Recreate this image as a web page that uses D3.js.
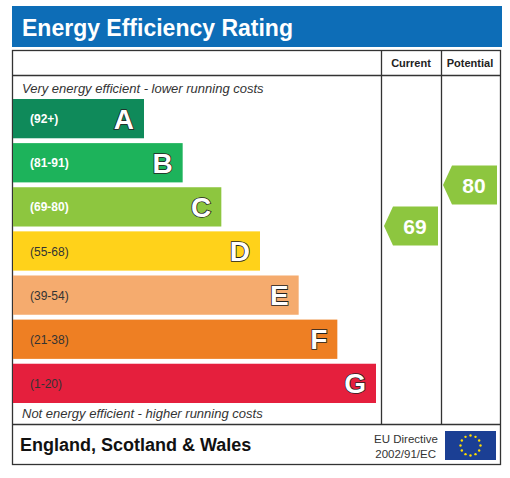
<!DOCTYPE html><html><head><meta charset="utf-8"><script src="https://cdn.jsdelivr.net/npm/d3@7"></script>
<style>body{margin:0;background:#fff}</style></head><body><svg id="c" width="510" height="478"></svg>
<script>
const letters=["A","B","C","D","E","F","G"];
const ranges=["(92+)","(81-91)","(69-80)","(55-68)","(39-54)","(21-38)","(1-20)"];
const colors=["#0f8a5a","#1db35b","#8dc63f","#ffd21a","#f5ab6e","#ee7f23","#e51f3d"];
const widthSteps=[1,2,3,4,5,6,7];
const currentVal=[69], potentialVal=[80];
const svg=d3.select("#c");
const F="Liberation Sans, Arial, sans-serif";
svg.append("rect").attr("x",12).attr("y",6).attr("width",490).attr("height",41).attr("fill","#0d6db7");
svg.append("text").attr("x",22).attr("y",36).attr("fill","#fff").attr("font-family",F).attr("font-weight","bold").attr("font-size",23).text("Energy Efficiency Rating");
const g=svg.append("g").attr("fill","none").attr("stroke","#333").attr("stroke-width",1.3);
g.append("rect").attr("x",12.5).attr("y",50.5).attr("width",488).attr("height",414);
g.append("line").attr("x1",12.5).attr("x2",500.5).attr("y1",75.5).attr("y2",75.5);
g.append("line").attr("x1",12.5).attr("x2",500.5).attr("y1",424.5).attr("y2",424.5);
[381.5,441.5].forEach(x=>g.append("line").attr("x1",x).attr("x2",x).attr("y1",50.5).attr("y2",424.5));
svg.append("text").attr("x",411).attr("y",67).attr("text-anchor","middle").attr("font-family",F).attr("font-weight","bold").attr("font-size",11).attr("fill","#222").text("Current");
svg.append("text").attr("x",470).attr("y",67).attr("text-anchor","middle").attr("font-family",F).attr("font-weight","bold").attr("font-size",11).attr("fill","#222").text("Potential");
svg.append("text").attr("x",22).attr("y",93).attr("font-family",F).attr("font-style","italic").attr("font-size",13).attr("fill","#333").text("Very energy efficient - lower running costs");
svg.append("text").attr("x",22).attr("y",418).attr("font-family",F).attr("font-style","italic").attr("font-size",13).attr("fill","#333").text("Not energy efficient - higher running costs");
const y=d3.scaleBand().domain(letters).range([99,403]).paddingInner(0.11);
const w=d3.scaleLinear().domain([0,7]).range([13,376]).clamp(false);
const wx=d3.scaleLinear().domain([1,7]).range([144,376]);
const bands=svg.selectAll("g.b").data(letters).join("g");
bands.append("rect").attr("x",13).attr("y",d=>y(d)).attr("height",y.bandwidth()).attr("width",(d,i)=>wx(widthSteps[i])-13).attr("fill",(d,i)=>colors[i]);
bands.append("text").attr("x",30).attr("y",d=>y(d)+y.bandwidth()/2+4.5).attr("font-family",F).attr("font-size",12).attr("font-weight",(d,i)=>i<3?"bold":"normal").attr("fill",(d,i)=>i<3?"#fff":"#333").text((d,i)=>ranges[i]);
bands.append("text").attr("x",(d,i)=>wx(widthSteps[i])-10).attr("y",d=>y(d)+y.bandwidth()/2+10).attr("text-anchor","end").attr("font-family",F).attr("font-weight","bold").attr("font-size",28).attr("fill","#fff").attr("stroke","#222").attr("stroke-width",1.6).attr("paint-order","stroke").text(d=>d);
const vy=d3.scaleLinear().domain([80,69]).range([185,226]);
function arrow(val,x0,x1){const c=vy(val),h=19.5;
 svg.append("path").attr("d",`M${x0},${c} L${x0+9},${c-h} L${x1},${c-h} L${x1},${c+h} L${x0+9},${c+h} Z`).attr("fill","#8dc63f");
 svg.append("text").attr("x",(x0+x1)/2+4).attr("y",c+8).attr("text-anchor","middle").attr("font-family",F).attr("font-weight","bold").attr("font-size",21).attr("fill","#fff").text(val);}
arrow(currentVal[0],384,438);arrow(potentialVal[0],443,497);
svg.append("text").attr("x",20).attr("y",451).attr("font-family",F).attr("font-weight","bold").attr("font-size",18).attr("fill","#111").text("England, Scotland & Wales");
svg.append("text").attr("x",438).attr("y",443).attr("text-anchor","end").attr("font-family",F).attr("font-size",11.5).attr("fill","#333").text("EU Directive");
svg.append("text").attr("x",436).attr("y",458).attr("text-anchor","end").attr("font-family",F).attr("font-size",11.5).attr("fill","#333").text("2002/91/EC");
svg.append("rect").attr("x",445).attr("y",431).attr("width",51).attr("height",29).attr("fill","#1b3f94");
const stars=d3.range(12).map(i=>i*Math.PI/6);
svg.selectAll("circle.s").data(stars).join("circle").attr("cx",a=>470.5+10*Math.cos(a)).attr("cy",a=>445.5+10*Math.sin(a)).attr("r",1.2).attr("fill","#ffdd00");
</script></body></html>
